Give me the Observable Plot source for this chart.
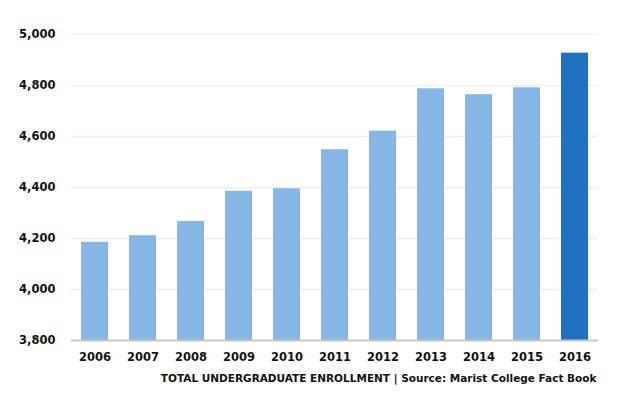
<!DOCTYPE html>
<html>
<head>
<meta charset="utf-8">
<script src="https://cdn.jsdelivr.net/npm/d3@7"></script>
<script src="https://cdn.jsdelivr.net/npm/@observablehq/plot@0.6"></script>
<style>
  html, body { margin: 0; padding: 0; background: #fff; }
  #chart svg { display: block; }
</style>
</head>
<body>
<div id="chart"></div>
<script>
const years = ["2006","2007","2008","2009","2010","2011","2012","2013","2014","2015","2016"];
const enrollment = [4185, 4211, 4267, 4385, 4395, 4548, 4621, 4787, 4764, 4791, 4927];
const yTicks = [3800, 4000, 4200, 4400, 4600, 4800, 5000];
const highlightYear = "2016";
const caption = "TOTAL UNDERGRADUATE ENROLLMENT | Source: Marist College Fact Book";

const data = years.map((year, i) => ({year, value: enrollment[i]}));
const fmt = d3.format(",");
const font = "'DejaVu Sans', Verdana, sans-serif";

const chart = Plot.plot({
  width: 617,
  height: 394,
  marginTop: 34,
  marginBottom: 54,
  marginLeft: 71,
  marginRight: 19,
  style: {fontFamily: font, background: "#fff"},
  x: {domain: years, paddingInner: 0.43, paddingOuter: 0.2, label: null},
  y: {domain: [3800, 5000], label: null},
  marks: [
    Plot.ruleY(yTicks.filter(t => t > 3800), {stroke: "#eeeeee", strokeWidth: 1.5}),
    Plot.barY(data, {
      x: "year", y1: 3800, y2: "value",
      fill: d => d.year === highlightYear ? "#2072bc" : "#85b6e4"
    }),
    Plot.ruleY([3800], {stroke: "#c6c6c6", strokeWidth: 2}),
    Plot.axisY({
      ticks: yTicks, tickFormat: fmt, tickSize: 0, tickPadding: 16,
      fontSize: 11.5, fontWeight: 700, fill: "#111", label: null
    }),
    Plot.axisX({
      tickSize: 0, tickPadding: 12, fontSize: 11.5, fontWeight: 700, fill: "#111", label: null
    }),
    Plot.text([caption], {
      frameAnchor: "bottom-right", dx: -2, dy: 41, text: d => d,
      fontSize: 10.5, fontWeight: 700, fill: "#111", textAnchor: "end"
    })
  ]
});
document.getElementById("chart").appendChild(chart);
</script>
</body>
</html>
